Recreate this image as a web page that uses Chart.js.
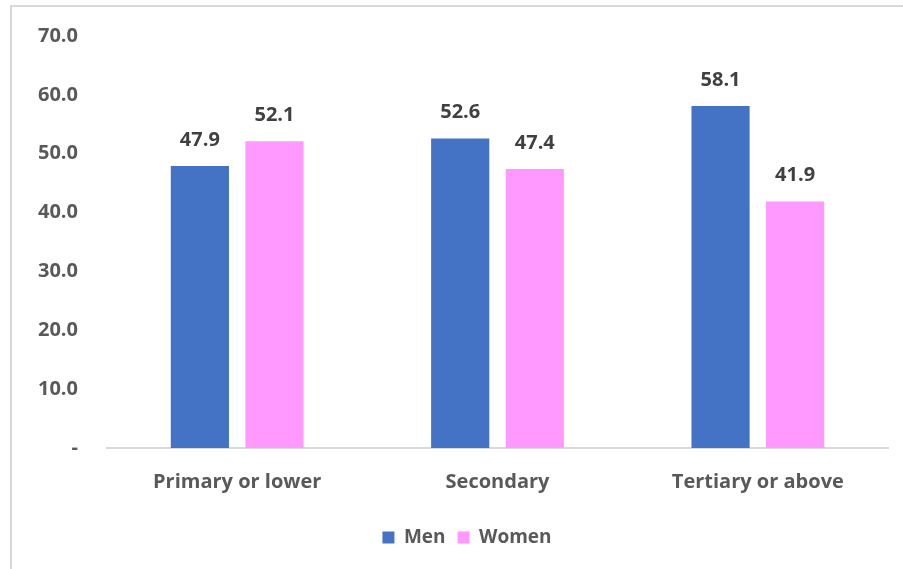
<!DOCTYPE html>
<html>
<head>
<meta charset="utf-8">
<script src="https://cdn.jsdelivr.net/npm/chart.js@4"></script>
<style>
  html, body { margin: 0; padding: 0; background: #fff; }
  #wrap { position: relative; width: 903px; height: 569px; overflow: hidden; }
  #frame { position: absolute; left: 10px; top: 5px; width: 1000px; height: 700px; border-left: 2px solid #d9d9d9; border-top: 2px solid #d9d9d9; }
  canvas { position: absolute; left: 0; top: 0; }
</style>
</head>
<body>
<div id="wrap">
  <div id="frame"></div>
  <canvas id="c" width="903" height="569"></canvas>
</div>
<script>
const categories = ['Primary or lower', 'Secondary', 'Tertiary or above'];
const men = [47.9, 52.6, 58.1];
const women = [52.1, 47.4, 41.9];
const yTickLabels = ['-', '10.0', '20.0', '30.0', '40.0', '50.0', '60.0', '70.0'];

const FONT = "'Open Sans', 'DejaVu Sans', sans-serif";

const valueLabels = {
  id: 'valueLabels',
  afterDatasetsDraw(chart) {
    const ctx = chart.ctx;
    ctx.save();
    ctx.font = `bold 20px ${FONT}`;
    ctx.fillStyle = '#404040';
    ctx.textAlign = 'center';
    ctx.textBaseline = 'middle';
    chart.data.datasets.forEach((ds, i) => {
      const meta = chart.getDatasetMeta(i);
      meta.data.forEach((bar, j) => {
        ctx.fillText(ds.data[j].toFixed(1), bar.x, bar.y - 26);
      });
    });
    ctx.restore();
  }
};

const shiftLegend = {
  id: 'shiftLegend',
  afterLayout(chart) {
    if (chart.legend) {
      chart.legend.left += 23;
      chart.legend.right += 23;
    }
  }
};

new Chart(document.getElementById('c'), {
  type: 'bar',
  data: {
    labels: categories,
    datasets: [
      { label: 'Men', data: men, backgroundColor: '#4472C4', borderColor: '#4472C4', borderWidth: 0 },
      { label: 'Women', data: women, backgroundColor: '#FF99FF', borderColor: '#FF99FF', borderWidth: 0 }
    ]
  },
  options: {
    responsive: false,
    animation: false,
    devicePixelRatio: 1,
    categoryPercentage: 0.573,
    barPercentage: 0.78,
    layout: { padding: { left: 0, right: 15, top: 36, bottom: 12 } },
    plugins: {
      legend: {
        position: 'bottom',
        labels: {
          boxWidth: 12, boxHeight: 12, padding: 12,
          color: '#595959',
          font: { family: FONT, size: 19, weight: 'bold' }
        }
      },
      tooltip: { enabled: false }
    },
    scales: {
      x: {
        grid: { display: false, drawTicks: false },
        border: { display: true, color: '#d9d9d9', width: 2 },
        ticks: { color: '#595959', padding: 22, font: { family: FONT, size: 20, weight: 'bold' } }
      },
      y: {
        min: 0, max: 70,
        grid: { display: false, drawTicks: false },
        border: { display: false },
        ticks: {
          stepSize: 10,
          color: '#595959',
          padding: 29,
          font: { family: FONT, size: 20, weight: 'bold' },
          callback: (v, i) => yTickLabels[i]
        },
        afterFit(scale) { scale.width = 107; scale.paddingTop = 0; scale.paddingBottom = 0; }
      }
    }
  },
  plugins: [valueLabels, shiftLegend]
});
</script>
</body>
</html>
